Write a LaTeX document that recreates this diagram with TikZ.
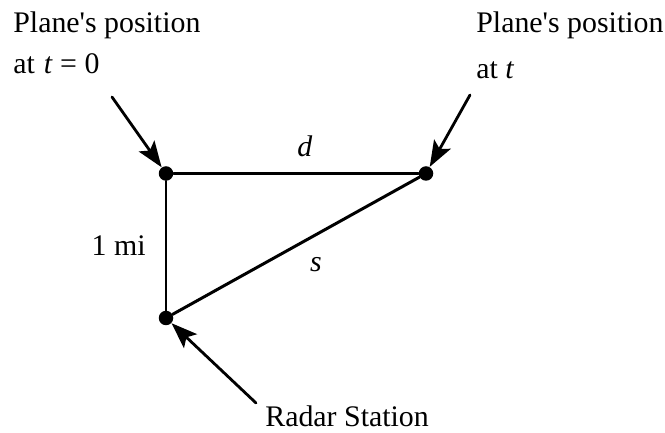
\documentclass[tikz,border=0pt]{standalone}
\usepackage{fontspec}
\setmainfont{Liberation Serif}
\usetikzlibrary{arrows.meta}

\begin{document}
\begin{tikzpicture}[line cap=round,line join=round,x=1.0cm,y=1.0cm,
	lbl/.style={inner sep=0pt,font=\fontsize{17pt}{20pt}\selectfont},
	dot/.style={circle,fill=black,inner sep=0pt,minimum size=0.29cm},
	pointer/.style={-{Stealth[length=0.52cm,width=0.38cm,inset=0.11cm]},line width=1.6pt}]
			\useasboundingbox (0,0) rectangle (13.3,8.66);
			% the three points
			\node [dot] (P0) at (3.32,5.19) {};
			\node [dot] (Pt) at (8.52,5.19) {};
			\node [dot] (R) at (3.32,2.30) {};
			\draw [line width=1.7pt] (P0)-- (Pt);
			\draw [line width=1.7pt] (P0)-- (R);
			\draw [line width=1.7pt] (R)-- (Pt);
			% labels of the sides
			\node [lbl,anchor=base] (d) at (6.1,5.52) {\textit{d}};
			\node [lbl,anchor=base east] (mi) at (2.92,3.54) {1 mi};
			\node [lbl,anchor=base] (s) at (6.32,3.22) {\textit{s}};
			% captions
			\node [lbl,anchor=base west] (cap0) at (0.26,8.0) {Plane\textquotesingle s position};
			\node [lbl,anchor=base west] (cap0b) at (0.26,7.18) {at\hspace{0.3em}\textit{t}\hspace{0.25em}=\hspace{0.25em}0};
			\node [lbl,anchor=base west] (capt) at (9.52,8.0) {Plane\textquotesingle s position};
			\node [lbl,anchor=base west] (captb) at (9.52,7.08) {at \textit{t}};
			\node [lbl,anchor=base west] (radar) at (5.3,0.12) {Radar Station};
			% arrows
			\coordinate (a0) at (2.24,6.72);
			\coordinate (at) at (9.4,6.76);
			\coordinate (ar) at (5.12,0.6);
			\draw [pointer] (a0) -- (P0);
			\draw [pointer] (at) -- (Pt);
			\draw [pointer] (ar) -- (R);
		\end{tikzpicture}
\end{document}
